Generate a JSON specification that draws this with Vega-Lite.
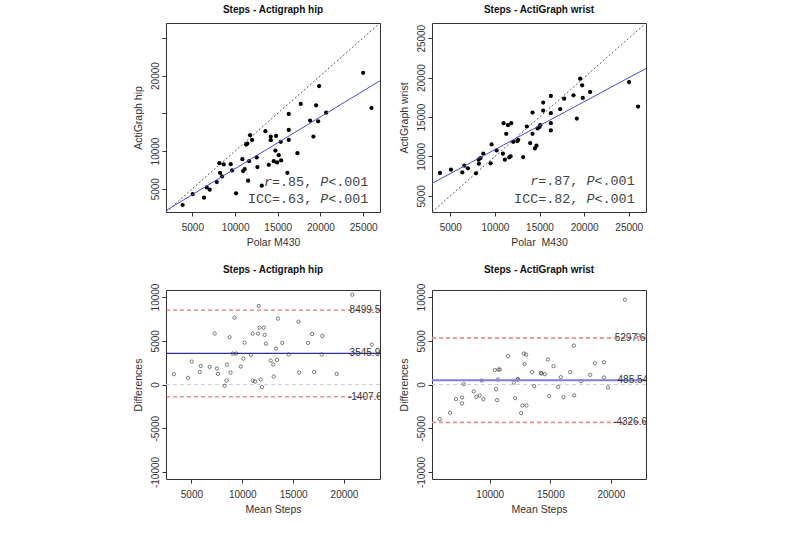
{
  "$schema": "https://vega.github.io/schema/vega-lite/v6.json",
  "background": "white",
  "padding": {"left": 132, "top": 4, "right": 5, "bottom": 5},
  "columns": 2,
  "bounds": "flush",
  "spacing": {"row": 78, "column": 52},
  "datasets": {
    "hip": [
      {"x": 3860, "y": 2841}, {"x": 5039, "y": 4295}, {"x": 6367, "y": 3811}, {"x": 6680, "y": 5176}, {"x": 7031, "y": 4868},
      {"x": 7851, "y": 5881}, {"x": 8242, "y": 7114}, {"x": 8164, "y": 8392}, {"x": 8476, "y": 6630}, {"x": 8671, "y": 8216},
      {"x": 9492, "y": 8260}, {"x": 9648, "y": 7423}, {"x": 10117, "y": 4383}, {"x": 10859, "y": 8920}, {"x": 10937, "y": 7335},
      {"x": 11132, "y": 7599}, {"x": 11289, "y": 10859}, {"x": 11445, "y": 10991}, {"x": 11523, "y": 6057}, {"x": 11640, "y": 8656},
      {"x": 11757, "y": 12092}, {"x": 11992, "y": 11475}, {"x": 12539, "y": 9141}, {"x": 12617, "y": 7863}, {"x": 13125, "y": 5396},
      {"x": 13554, "y": 12621}, {"x": 13945, "y": 8172}, {"x": 14180, "y": 11916}, {"x": 14180, "y": 11431}, {"x": 14531, "y": 8656},
      {"x": 14726, "y": 10066}, {"x": 14804, "y": 12004}, {"x": 14921, "y": 8480}, {"x": 15117, "y": 9449}, {"x": 15351, "y": 11211},
      {"x": 15390, "y": 8744}, {"x": 16132, "y": 7114}, {"x": 16289, "y": 14911}, {"x": 16289, "y": 12797}, {"x": 16289, "y": 11475},
      {"x": 17304, "y": 9713}, {"x": 17695, "y": 16233}, {"x": 18788, "y": 14030}, {"x": 19179, "y": 11916}, {"x": 19492, "y": 16057},
      {"x": 19726, "y": 13942}, {"x": 19843, "y": 18612}, {"x": 20663, "y": 15087}, {"x": 24999, "y": 20373}, {"x": 25975, "y": 15704}
    ],
    "wrist": [
      {"x": 3843, "y": 7905}, {"x": 5075, "y": 8326}, {"x": 6343, "y": 7989}, {"x": 6567, "y": 8831}, {"x": 6977, "y": 8494},
      {"x": 7873, "y": 7863}, {"x": 8171, "y": 9589}, {"x": 8209, "y": 9084}, {"x": 8395, "y": 9799}, {"x": 8694, "y": 10347},
      {"x": 9515, "y": 9126}, {"x": 9627, "y": 11526}, {"x": 10186, "y": 10768}, {"x": 10895, "y": 10347}, {"x": 10970, "y": 14220},
      {"x": 11119, "y": 9589}, {"x": 11268, "y": 12873}, {"x": 11455, "y": 13968}, {"x": 11604, "y": 9883}, {"x": 11753, "y": 10010},
      {"x": 11828, "y": 14220}, {"x": 12052, "y": 11862}, {"x": 12500, "y": 11947}, {"x": 12612, "y": 12115}, {"x": 13171, "y": 9926},
      {"x": 13581, "y": 13799}, {"x": 13954, "y": 11694}, {"x": 14215, "y": 12873}, {"x": 14215, "y": 15567}, {"x": 14477, "y": 11021},
      {"x": 14663, "y": 11357}, {"x": 14775, "y": 13547}, {"x": 14962, "y": 13715}, {"x": 15074, "y": 13968}, {"x": 15410, "y": 15820},
      {"x": 15410, "y": 16830}, {"x": 16268, "y": 17672}, {"x": 16268, "y": 15483}, {"x": 16268, "y": 14220}, {"x": 16268, "y": 13294},
      {"x": 17313, "y": 15988}, {"x": 17760, "y": 17335}, {"x": 18805, "y": 17756}, {"x": 19178, "y": 14810}, {"x": 19551, "y": 19861},
      {"x": 19775, "y": 19019}, {"x": 19850, "y": 17420}, {"x": 20671, "y": 18178}, {"x": 25036, "y": 19440}, {"x": 26043, "y": 16325}
    ],
    "hip_identity": [{"x": 1913, "y": 1913}, {"x": 26971, "y": 26971}],
    "hip_fit": [{"x": 1913, "y": 2102}, {"x": 26971, "y": 19317}],
    "wrist_identity": [{"x": 2950, "y": 2950}, {"x": 26931, "y": 26931}],
    "wrist_fit": [{"x": 2950, "y": 6582}, {"x": 26931, "y": 21160}],
    "hip_stats_plain": [
      {"x": 14324, "y": 5924, "t": "=.85,"}, {"x": 20904, "y": 5924, "t": "<.001"},
      {"x": 11504, "y": 3674, "t": "ICC=.63,"}, {"x": 20904, "y": 3674, "t": "<.001"}
    ],
    "hip_stats_ital": [
      {"x": 13384, "y": 5924, "t": "r"}, {"x": 19964, "y": 5924, "t": "P"}, {"x": 19964, "y": 3674, "t": "P"}
    ],
    "wrist_stats_plain": [
      {"x": 14852, "y": 6826, "t": "=.87,"}, {"x": 21159, "y": 6826, "t": "<.001"},
      {"x": 12149, "y": 4635, "t": "ICC=.82,"}, {"x": 21159, "y": 4635, "t": "<.001"}
    ],
    "wrist_stats_ital": [
      {"x": 13951, "y": 6826, "t": "r"}, {"x": 20258, "y": 6826, "t": "P"}, {"x": 20258, "y": 4635, "t": "P"}
    ],
    "ba_hip": [
      {"m": 3272, "d": 1179}, {"m": 4674, "d": 760}, {"m": 5033, "d": 2623}, {"m": 5815, "d": 1445}, {"m": 5913, "d": 2129},
      {"m": 6793, "d": 2015}, {"m": 7282, "d": 5817}, {"m": 7510, "d": 1825}, {"m": 7608, "d": 1217}, {"m": 8260, "d": -152},
      {"m": 8456, "d": 456}, {"m": 8488, "d": 2281}, {"m": 8749, "d": 5399}, {"m": 8847, "d": 1369}, {"m": 9075, "d": 3536},
      {"m": 9238, "d": 7642}, {"m": 9401, "d": 3536}, {"m": 9857, "d": 2053}, {"m": 10216, "d": 4791}, {"m": 10118, "d": 2966},
      {"m": 10835, "d": 3384}, {"m": 11031, "d": 5817}, {"m": 11031, "d": 456}, {"m": 11259, "d": 342}, {"m": 11618, "d": 8973},
      {"m": 11553, "d": 5817}, {"m": 11683, "d": 6501}, {"m": 11813, "d": 570}, {"m": 11944, "d": -304}, {"m": 12107, "d": 6501},
      {"m": 12205, "d": 5665}, {"m": 12335, "d": 4676}, {"m": 12792, "d": 2737}, {"m": 13052, "d": 2281}, {"m": 13085, "d": 912},
      {"m": 13313, "d": 4106}, {"m": 13411, "d": 2813}, {"m": 13509, "d": 7528}, {"m": 13932, "d": 4752}, {"m": 14552, "d": 3422},
      {"m": 15530, "d": 7186}, {"m": 15595, "d": 1369}, {"m": 16475, "d": 4752}, {"m": 16866, "d": 5779}, {"m": 17062, "d": 1445},
      {"m": 17812, "d": 3422}, {"m": 17877, "d": 5551}, {"m": 19279, "d": 1217}, {"m": 20811, "d": 10265}, {"m": 22734, "d": 4562}
    ],
    "ba_wrist": [
      {"m": 5867, "d": -3954}, {"m": 6721, "d": -3232}, {"m": 7217, "d": -1673}, {"m": 7713, "d": -1483}, {"m": 7713, "d": -2167},
      {"m": 7851, "d": 38}, {"m": 8678, "d": -798}, {"m": 8898, "d": -1407}, {"m": 9174, "d": -1255}, {"m": 9477, "d": -1673},
      {"m": 9339, "d": 456}, {"m": 10413, "d": 1635}, {"m": 10523, "d": -532}, {"m": 10606, "d": -1787}, {"m": 10661, "d": 570},
      {"m": 10716, "d": 1711}, {"m": 10827, "d": 1711}, {"m": 11515, "d": 3232}, {"m": 11984, "d": 228}, {"m": 12094, "d": -1559},
      {"m": 12287, "d": 570}, {"m": 12342, "d": 608}, {"m": 12590, "d": -3270}, {"m": 12700, "d": -2395}, {"m": 12810, "d": 3536},
      {"m": 13003, "d": 3422}, {"m": 12865, "d": 2319}, {"m": 13030, "d": -2395}, {"m": 13499, "d": 1407}, {"m": 13664, "d": -190},
      {"m": 14215, "d": 1331}, {"m": 14270, "d": 1255}, {"m": 14545, "d": 1179}, {"m": 14794, "d": 2851}, {"m": 14904, "d": -1331},
      {"m": 15262, "d": 2091}, {"m": 15648, "d": -266}, {"m": 15868, "d": 836}, {"m": 16089, "d": -1445}, {"m": 16640, "d": 1407},
      {"m": 16943, "d": 4448}, {"m": 16970, "d": -1255}, {"m": 17521, "d": 380}, {"m": 18293, "d": 1103}, {"m": 18678, "d": 2433},
      {"m": 19422, "d": 2547}, {"m": 19422, "d": 798}, {"m": 19753, "d": -342}, {"m": 21158, "d": 9695}, {"m": 22260, "d": 5627}
    ],
    "ba_hip_lines": [
      {"kind": "zero", "d": 0},
      {"kind": "limit", "d": 8499.52, "m": 22330, "label": "8499.52"},
      {"kind": "mean", "d": 3545.96, "m": 22330, "label": "3545.96"},
      {"kind": "limit", "d": -1407.6, "m": 22330, "label": "-1407.60"}
    ],
    "ba_wrist_lines": [
      {"kind": "zero", "d": 0},
      {"kind": "limit", "d": 5297.69, "m": 21811, "label": "5297.69"},
      {"kind": "mean", "d": 485.54, "m": 21811, "label": "485.54"},
      {"kind": "limit", "d": -4326.61, "m": 21811, "label": "-4326.61"}
    ]
  },
  "concat": [
    {
      "width": 214, "height": 189,
      "title": "Steps - Actigraph hip",
      "encoding": {
        "x": {"field": "x", "type": "quantitative", "title": "Polar M430",
              "scale": {"domain": [1913, 26971], "nice": false, "zero": false},
              "axis": {"values": [5000, 10000, 15000, 20000, 25000], "labelExpr": "datum.value + ''"}},
        "y": {"field": "y", "type": "quantitative", "title": "ActiGraph hip",
              "scale": {"domain": [1913, 26971], "nice": false, "zero": false},
              "axis": {"values": [5000, 10000, 15000, 20000, 25000], "labelExpr": "datum.value == 15000 || datum.value == 25000 ? '' : datum.value + ''"}}
      },
      "layer": [
        {"data": {"name": "hip_identity"}, "mark": {"type": "line", "color": "#333", "strokeWidth": 0.8, "strokeDash": [2, 2], "clip": true}},
        {"data": {"name": "hip"}, "mark": {"type": "circle", "color": "#000", "size": 18, "opacity": 1}},
        {"data": {"name": "hip_fit"}, "mark": {"type": "line", "color": "#4b4bd2", "strokeWidth": 1, "clip": true}},
        {"data": {"name": "hip_stats_plain"}, "mark": {"type": "text", "font": "Liberation Mono", "fontSize": 13.4, "align": "left", "baseline": "middle", "color": "#444"},
         "encoding": {"text": {"field": "t"}}},
        {"data": {"name": "hip_stats_ital"}, "mark": {"type": "text", "font": "Liberation Mono", "fontSize": 13.4, "fontStyle": "italic", "align": "left", "baseline": "middle", "color": "#444"},
         "encoding": {"text": {"field": "t"}}}
      ]
    },
    {
      "width": 214, "height": 189,
      "title": "Steps - ActiGraph wrist",
      "encoding": {
        "x": {"field": "x", "type": "quantitative", "title": "Polar\u00a0 M430",
              "scale": {"domain": [2950, 26931], "nice": false, "zero": false},
              "axis": {"values": [5000, 10000, 15000, 20000, 25000], "labelExpr": "datum.value + ''"}},
        "y": {"field": "y", "type": "quantitative", "title": "ActiGraph wrist",
              "scale": {"domain": [2950, 26931], "nice": false, "zero": false},
              "axis": {"values": [5000, 10000, 15000, 20000, 25000], "labelExpr": "datum.value + ''"}}
      },
      "layer": [
        {"data": {"name": "wrist_identity"}, "mark": {"type": "line", "color": "#333", "strokeWidth": 0.8, "strokeDash": [2, 2], "clip": true}},
        {"data": {"name": "wrist"}, "mark": {"type": "circle", "color": "#000", "size": 18, "opacity": 1}},
        {"data": {"name": "wrist_fit"}, "mark": {"type": "line", "color": "#4b4bd2", "strokeWidth": 1, "clip": true}},
        {"data": {"name": "wrist_stats_plain"}, "mark": {"type": "text", "font": "Liberation Mono", "fontSize": 13.4, "align": "left", "baseline": "middle", "color": "#444"},
         "encoding": {"text": {"field": "t"}}},
        {"data": {"name": "wrist_stats_ital"}, "mark": {"type": "text", "font": "Liberation Mono", "fontSize": 13.4, "fontStyle": "italic", "align": "left", "baseline": "middle", "color": "#444"},
         "encoding": {"text": {"field": "t"}}}
      ]
    },
    {
      "width": 214, "height": 189,
      "title": "Steps - Actigraph hip",
      "encoding": {
        "x": {"field": "m", "type": "quantitative", "title": "Mean Steps",
              "scale": {"domain": [2500, 23540], "nice": false, "zero": false},
              "axis": {"values": [5000, 10000, 15000, 20000], "labelExpr": "datum.value + ''"}},
        "y": {"field": "d", "type": "quantitative", "title": "Differences",
              "scale": {"domain": [-10800, 10800], "nice": false, "zero": false},
              "axis": {"values": [-10000, -5000, 0, 5000, 10000], "labelExpr": "datum.value + ''"}}
      },
      "layer": [
        {"data": {"name": "ba_hip_lines"}, "transform": [{"filter": "datum.kind == 'zero'"}],
         "mark": {"type": "rule", "color": "#cfcfcf", "strokeWidth": 1, "strokeDash": [4, 3]}, "encoding": {"x": null}},
        {"data": {"name": "ba_hip"}, "mark": {"type": "point", "shape": "circle", "filled": false, "color": "#111", "size": 11, "strokeWidth": 0.8}},
        {"data": {"name": "ba_hip_lines"}, "transform": [{"filter": "datum.kind == 'limit'"}],
         "mark": {"type": "rule", "color": "#e05858", "strokeWidth": 1, "strokeDash": [4, 3]}, "encoding": {"x": null}},
        {"data": {"name": "ba_hip_lines"}, "transform": [{"filter": "datum.kind == 'mean'"}],
         "mark": {"type": "rule", "color": "#2e2e9e", "strokeWidth": 1.2}, "encoding": {"x": null}},
        {"data": {"name": "ba_hip_lines"}, "transform": [{"filter": "datum.kind != 'zero'"}],
         "mark": {"type": "text", "font": "Liberation Sans", "fontSize": 10, "align": "center", "baseline": "middle", "color": "#333", "clip": true},
         "encoding": {"text": {"field": "label"}}}
      ]
    },
    {
      "width": 214, "height": 189,
      "title": "Steps - ActiGraph wrist",
      "encoding": {
        "x": {"field": "m", "type": "quantitative", "title": "Mean Steps",
              "scale": {"domain": [5230, 22900], "nice": false, "zero": false},
              "axis": {"values": [10000, 15000, 20000], "labelExpr": "datum.value + ''"}},
        "y": {"field": "d", "type": "quantitative", "title": "Differences",
              "scale": {"domain": [-10800, 10800], "nice": false, "zero": false},
              "axis": {"values": [-10000, -5000, 0, 5000, 10000], "labelExpr": "datum.value + ''"}}
      },
      "layer": [
        {"data": {"name": "ba_wrist_lines"}, "transform": [{"filter": "datum.kind == 'zero'"}],
         "mark": {"type": "rule", "color": "#d0d0d0", "strokeWidth": 1.2, "strokeDash": [4, 3]}, "encoding": {"x": null}},
        {"data": {"name": "ba_wrist"}, "mark": {"type": "point", "shape": "circle", "filled": false, "color": "#111", "size": 11, "strokeWidth": 0.8}},
        {"data": {"name": "ba_wrist_lines"}, "transform": [{"filter": "datum.kind == 'limit'"}],
         "mark": {"type": "rule", "color": "#ee8f8f", "strokeWidth": 1.6, "strokeDash": [4, 3]}, "encoding": {"x": null}},
        {"data": {"name": "ba_wrist_lines"}, "transform": [{"filter": "datum.kind == 'mean'"}],
         "mark": {"type": "rule", "color": "#7d7de0", "strokeWidth": 2}, "encoding": {"x": null}},
        {"data": {"name": "ba_wrist_lines"}, "transform": [{"filter": "datum.kind != 'zero'"}],
         "mark": {"type": "text", "font": "Liberation Sans", "fontSize": 10, "align": "center", "baseline": "middle", "color": "#333", "clip": true},
         "encoding": {"text": {"field": "label"}}}
      ]
    }
  ],
  "config": {
    "font": "Liberation Sans",
    "view": {"stroke": "#333", "strokeWidth": 1},
    "axis": {"domain": false, "grid": false, "ticks": true, "tickColor": "#333", "tickSize": 4,
             "labelFont": "Liberation Sans", "labelFontSize": 10, "labelColor": "#333", "labelOverlap": false, "labelFlush": false,
             "titleFont": "Liberation Sans", "titleFontSize": 10.5, "titleFontWeight": "normal", "titleColor": "#333"},
    "axisX": {"labelPadding": 6, "titlePadding": 5},
    "axisY": {"labelAngle": 270, "labelAlign": "center", "labelBaseline": "bottom", "labelPadding": 2, "titlePadding": 7},
    "title": {"font": "Liberation Sans", "fontSize": 10, "fontWeight": "bold", "color": "#111", "offset": 8, "frame": "group", "anchor": "middle"}
  }
}
